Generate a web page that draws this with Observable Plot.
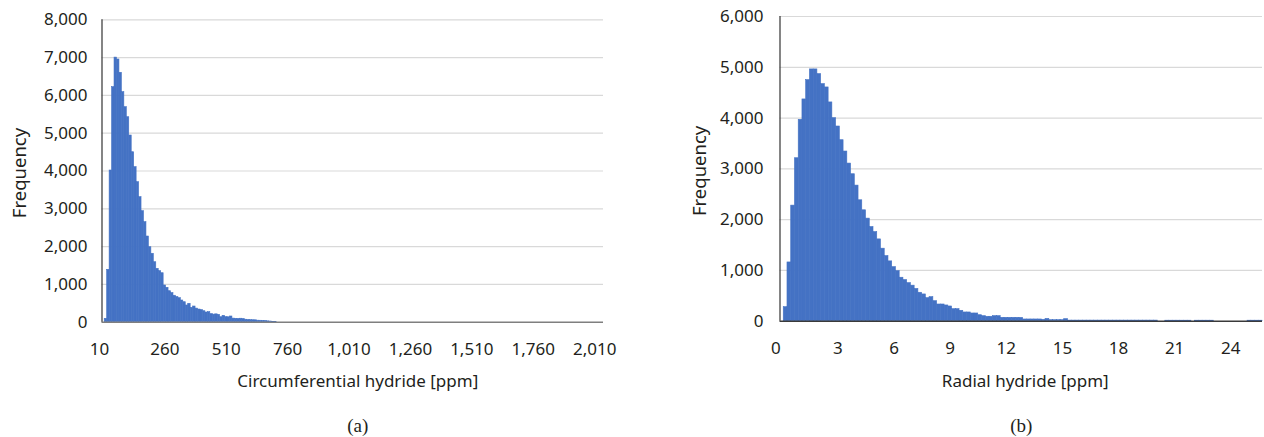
<!DOCTYPE html>
<html><head><meta charset="utf-8">
<script src="https://cdn.jsdelivr.net/npm/d3@7"></script>
<script src="https://cdn.jsdelivr.net/npm/@observablehq/plot@0.6"></script>
<style>
body{margin:0;background:#fff;}
#wrap{display:flex;width:1264px;height:437px;overflow:hidden;}
#wrap svg{flex:none;}
</style></head><body><div id="wrap"></div>
<script>
// ---- (a) Circumferential hydride histogram ----
const circFirstBin = 20;      // ppm, centre of first listed bin
const circBinWidth = 10;      // ppm
const circCounts = [90,1386,4013,6217,7000,6950,6598,6085,5688,5423,4939,4497,4101,3704,3307,2937,2646,2267,1984,1810,1587,1412,1350,1296,971,910,820,770,700,665,635,574,529,442,487,381,415,360,335,320,291,257,265,215,200,208,195,132,169,135,130,151,95,90,88,92,85,66,60,55,52,50,40,38,36,34,22,18,6,3];
const circXDomain = [4, 2046];
const circXTicks = [10,260,510,760,1010,1260,1510,1760,2010];
const circYTicks = [0,1000,2000,3000,4000,5000,6000,7000,8000];
const circXTitle = "Circumferential hydride [ppm]";
const circPanel = "(a)";

// ---- (b) Radial hydride histogram ----
const radFirstBin = 0;
const radBinWidth = 0.2;
const radCounts = [0,276,1157,2276,3209,3965,4367,4747,4958,4958,4866,4669,4603,4308,3998,3834,3564,3341,3104,2894,2670,2381,2184,2020,1854,1755,1611,1428,1282,1178,1065,986,856,810,750,700,635,560,527,454,473,394,329,329,310,290,237,237,205,172,172,152,152,118,99,87,87,99,99,67,67,67,67,67,65,34,34,34,34,34,28,45,20,20,20,20,40,
12,12,12,12,12,12,12,12,12,12,12,12,12,12,12,12,12,12,12,12,12,12,12,12,
0,0,10,10,10,10,10,10,10,0,10,10,10,10,10,0,0,0,0,0,0,0,0,0,10,10,10,10];
const radXDomain = [-0.1, 25.7];
const radXTicks = [0,3,6,9,12,15,18,21,24];
const radYTicks = [0,1000,2000,3000,4000,5000,6000];
const radXTitle = "Radial hydride [ppm]";
const radPanel = "(b)";

const yLabel = "Frequency";
const barColor = "#4472c4";
const fmt = d3.format(",");

function histPlot(o) {
  const bins = o.counts.map((c, i) => {
    const center = o.first + i * o.binW;
    return {x1: center - o.binW / 2, x2: center + o.binW / 2, count: c};
  });
  return Plot.plot({
    width: o.width, height: 437,
    marginLeft: o.ml, marginRight: o.mr, marginTop: o.mt, marginBottom: o.mb,
    style: {fontFamily: "'Noto Sans', sans-serif", fontSize: "17px", color: "#231f20", background: "white", overflow: "visible"},
    x: {domain: o.xDomain, label: null},
    y: {domain: [0, o.yTicks[o.yTicks.length - 1]], label: null},
    marks: [
      Plot.ruleY(o.yTicks.slice(1), {stroke: "#d9d9d9", strokeWidth: 1.2}),
      Plot.rectY(bins, {x1: "x1", x2: "x2", y: "count", fill: barColor, stroke: barColor, strokeWidth: 0.6}),
      Plot.ruleY([0], {stroke: o.xLine, strokeWidth: 1.4}),
      Plot.ruleX([o.xDomain[0]], {stroke: "#333", strokeWidth: 1.2}),
      Plot.axisY({ticks: o.yTicks, tickSize: 0, tickPadding: o.yPad, tickFormat: fmt}),
      Plot.axisX({ticks: o.xTicks.slice(1), tickSize: 0, tickPadding: 21, tickFormat: fmt}),
      Plot.axisX({ticks: o.xTicks.slice(0, 1), tickSize: 0, tickPadding: 21, tickFormat: fmt, dx: o.firstDx}),
      Plot.text([yLabel], {text: d => d, frameAnchor: "left", textAnchor: "middle", lineAnchor: "middle", rotate: -90, dx: o.freqDx, dy: 2, fontSize: 18.5}),
      Plot.text([o.xTitle], {text: d => d, frameAnchor: "bottom", textAnchor: "middle", lineAnchor: "middle", dy: o.titleDy, dx: o.titleDx, fontSize: 17}),
      Plot.text([o.panel], {text: d => d, frameAnchor: "bottom", textAnchor: "middle", lineAnchor: "middle", dy: o.panelDy, dx: o.panelDx, fontFamily: "'Liberation Serif', serif", fontSize: 19})
    ]
  });
}

const wrap = document.getElementById("wrap");
wrap.append(histPlot({
  counts: circCounts, first: circFirstBin, binW: circBinWidth,
  xDomain: circXDomain, xTicks: circXTicks, yTicks: circYTicks,
  width: 632, ml: 101.5, mr: 29, mt: 19.3, mb: 115.3,
  xLine: "#7f7f7f", yPad: 14.5, firstDx: -4, freqDx: -81.5,
  xTitle: circXTitle, titleDy: 59.3, titleDx: 5,
  panel: circPanel, panelDy: 103.5, panelDx: 5
}));
wrap.append(histPlot({
  counts: radCounts, first: radFirstBin, binW: radBinWidth,
  xDomain: radXDomain, xTicks: radXTicks, yTicks: radYTicks,
  width: 632, ml: 147.5, mr: 2, mt: 16, mb: 116.3,
  xLine: "#3a3a3a", yPad: 16.5, firstDx: -6, freqDx: -79.5,
  xTitle: radXTitle, titleDy: 60.3, titleDx: 4,
  panel: radPanel, panelDy: 104.5, panelDx: 0
}));
</script></body></html>
